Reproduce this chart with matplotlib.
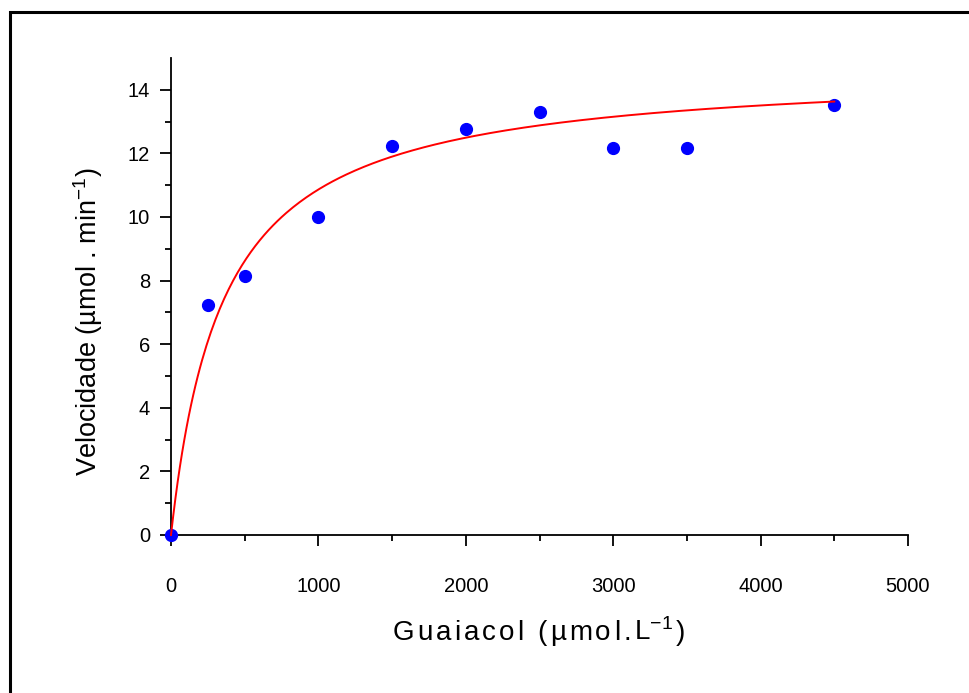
import matplotlib.pyplot as plt
import numpy as np
from matplotlib.offsetbox import TextArea, HPacker, AnnotationBbox
from matplotlib.patches import Rectangle

plt.rcParams['font.family'] = ['Liberation Sans', 'DejaVu Sans']
plt.rcParams['mathtext.fontset'] = 'custom'
plt.rcParams['mathtext.rm'] = 'Liberation Sans'
plt.rcParams['mathtext.default'] = 'regular'

# measured points
guaiacol = [0, 250, 500, 1000, 1500, 2000, 2500, 3000, 3500, 4500]
velocidade = [0, 7.23, 8.14, 10.0, 12.23, 12.77, 13.3, 12.17, 12.17, 13.52]

# Michaelis-Menten fit parameters
vmax = 14.7
km = 353.0
fit_xmax = 4500

xticks = [0, 1000, 2000, 3000, 4000, 5000]
yticks = [0, 2, 4, 6, 8, 10, 12, 14]

fig = plt.figure(figsize=(9.69, 6.93), dpi=100)
ax = fig.add_axes([171/969, 1 - 535/693, (908 - 171)/969, (535 - 58)/693])

ax.plot(guaiacol, velocidade, 'o', color='#0000FF', markersize=8.5,
        clip_on=False, zorder=3)

xfit = np.linspace(0, fit_xmax, 300)
yfit = vmax * xfit / (km + xfit)
ax.plot(xfit, yfit, color='red', linewidth=1.4, clip_on=False, zorder=4)

ax.set_xlim(0, 5000)
ax.set_ylim(0, 15)
ax.set_xticks(xticks)
ax.set_xticks(np.arange(500, 5000, 1000), minor=True)
ax.set_yticks(yticks)
ax.set_yticks(np.arange(1, 15, 2), minor=True)

for s in ['top', 'right']:
    ax.spines[s].set_visible(False)
for s in ['left', 'bottom']:
    ax.spines[s].set_linewidth(1.3)

ax.tick_params(which='major', length=8, width=1.3, labelsize=14.5, direction='out')
ax.tick_params(which='minor', length=4.5, width=1.3, direction='out')
ax.tick_params(axis='x', which='major', pad=22)
ax.tick_params(axis='y', which='major', pad=7)

# x label with wide letter spacing
parts = list('Guaiacol (µmol.') + ['L$^{-1}$', ')']
boxes = [TextArea(p, textprops=dict(fontsize=20)) for p in parts]
pack = HPacker(children=boxes, sep=2.2, pad=0, align='baseline')
ab = AnnotationBbox(pack, (539, 693 - 632), xycoords='figure pixels',
                    frameon=False, box_alignment=(0.5, 0.5))
fig.add_artist(ab)

fig.text(88/969, 1 - 322/693, 'Velocidade (µmol . min$^{-1}$)', rotation=90,
         ha='center', va='center', fontsize=19.5)

# outer frame (only top and left fall inside the image)
frame = Rectangle((9.5/969, -0.5), 2, 0.5 + (1 - 12/693), transform=fig.transFigure,
                  fill=False, edgecolor='black', linewidth=2.2, clip_on=False)
fig.add_artist(frame)

fig.savefig('out.png', dpi=100)
